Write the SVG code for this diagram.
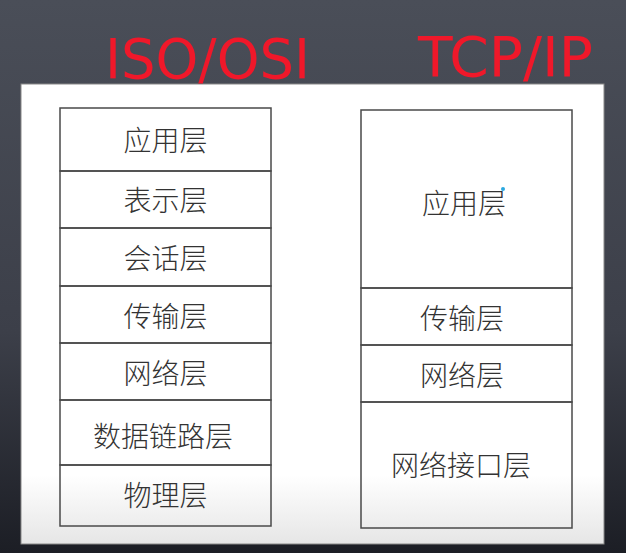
<svg xmlns="http://www.w3.org/2000/svg" width="626" height="553" viewBox="0 0 626 553">
<defs>
<linearGradient id="bg" x1="0" y1="0" x2="0" y2="1">
<stop offset="0" stop-color="#4a4e58"/>
<stop offset="0.6" stop-color="#3c3f49"/>
<stop offset="1" stop-color="#1c1e25"/>
</linearGradient>
<linearGradient id="panel" x1="0" y1="0" x2="0" y2="1">
<stop offset="0" stop-color="#ffffff"/>
<stop offset="0.85" stop-color="#ffffff"/>
<stop offset="1" stop-color="#e6e6e6"/>
</linearGradient>
<style>
.box{fill:none;stroke:#4a4a4a;stroke-width:1.5}
.lbl{font-family:"Noto Sans CJK SC","Noto Sans",sans-serif;font-size:28px;font-weight:300;fill:#333;text-anchor:middle;dominant-baseline:central}
.hand{font-family:"DejaVu Sans",sans-serif;font-size:56px;fill:#f0182a;font-weight:normal}
</style>
</defs>
<rect width="626" height="553" fill="url(#bg)"/>
<rect x="21" y="84" width="583" height="460" fill="url(#panel)" stroke="#888" stroke-width="1"/>
<text class="hand" x="105" y="78" textLength="205" lengthAdjust="spacingAndGlyphs">ISO/OSI</text>
<text class="hand" x="418" y="76" textLength="175" lengthAdjust="spacingAndGlyphs">TCP/IP</text>
<g id="osi">
<g id="osi-app"><rect class="box" x="60" y="108" width="211" height="63"/><text class="lbl" x="165.5" y="139">应用层</text></g>
<g id="osi-pres"><rect class="box" x="60" y="171" width="211" height="57"/><text class="lbl" x="165.5" y="199">表示层</text></g>
<g id="osi-sess"><rect class="box" x="60" y="228" width="211" height="58"/><text class="lbl" x="165.5" y="257">会话层</text></g>
<g id="osi-trans"><rect class="box" x="60" y="286" width="211" height="57"/><text class="lbl" x="165.5" y="315">传输层</text></g>
<g id="osi-net"><rect class="box" x="60" y="343" width="211" height="57"/><text class="lbl" x="165.5" y="372">网络层</text></g>
<g id="osi-link"><rect class="box" x="60" y="400" width="211" height="65"/><text class="lbl" x="163" y="435">数据链路层</text></g>
<g id="osi-phy"><rect class="box" x="60" y="465" width="211" height="61"/><text class="lbl" x="165.5" y="494">物理层</text></g>
</g>
<g id="tcpip">
<g id="tcp-app"><rect class="box" x="361" y="110" width="211" height="178"/><text class="lbl" x="464" y="202">应用层</text></g>
<g id="tcp-trans"><rect class="box" x="361" y="288" width="211" height="57"/><text class="lbl" x="462" y="317">传输层</text></g>
<g id="tcp-net"><rect class="box" x="361" y="345" width="211" height="57"/><text class="lbl" x="462" y="374">网络层</text></g>
<g id="tcp-if"><rect class="box" x="361" y="402" width="211" height="126"/><text class="lbl" x="461" y="464">网络接口层</text></g>
</g>
<g id="connectors"></g>
<circle cx="503" cy="189" r="2" fill="#2aa8e0"/>
</svg>
